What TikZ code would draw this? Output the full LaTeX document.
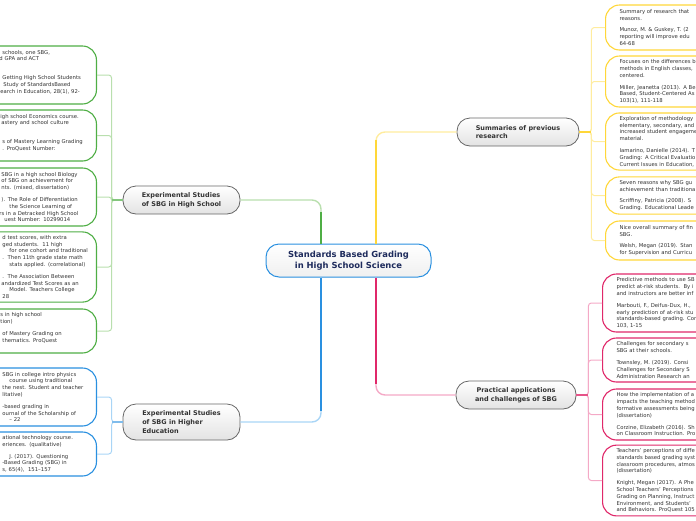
\documentclass[tikz,border=0pt]{standalone}
\usepackage{fontspec}
\setmainfont{DejaVu Sans}
\usepackage{tikz}
\definecolor{grnA}{HTML}{4FAE45}
\definecolor{grnB}{HTML}{B9DFAE}
\definecolor{yelA}{HTML}{FFD739}
\definecolor{yelB}{HTML}{FFEC9E}
\definecolor{bluA}{HTML}{2A90E0}
\definecolor{bluB}{HTML}{A9D5F6}
\definecolor{pnkA}{HTML}{E0286A}
\definecolor{pnkB}{HTML}{F4A9C6}
\definecolor{inkgray}{HTML}{333333}
\definecolor{navy}{HTML}{1E2B5C}
% one cut line of a left leaf, shifted to where it shows
\newcommand{\cut}[2][0]{\hspace*{\dimexpr55pt+#1pt\relax}\mbox{#2}}

\begin{document}
\begin{tikzpicture}[x=1pt,y=-1pt,
  leaf/.style={draw,fill=white,line width=1.1pt,rounded corners=14pt,align=left,
    text=inkgray,font=\fontsize{5.3}{6.8}\selectfont},
  leftleaf/.style={leaf,anchor=east,text width=150pt,inner xsep=2pt},
  rightleaf/.style={leaf,anchor=west,text width=200pt,inner xsep=14pt},
  topic/.style={draw=gray!80!black,line width=0.8pt,rounded corners=13pt,
    top color=white,bottom color=gray!22,text=inkgray,align=left,
    font=\fontsize{6.5}{8.7}\selectfont\bfseries,minimum width=117pt,inner xsep=15pt},
  trunk/.style={line width=2.2pt},
  twig/.style={line width=1.4pt,rounded corners=9pt},
  spine/.style={line width=1pt,rounded corners=3pt}]
\useasboundingbox (0,0) rectangle (696,520);
\clip (0,0) rectangle (696,520);
%
\node[draw=bluA,line width=1pt,rounded corners=13pt,top color=white,bottom color=gray!12,
  text=navy,align=center,font=\fontsize{8.4}{10.5}\selectfont\bfseries,
  minimum width=165pt,minimum height=33pt] (root) at (348.5,260.5)
  {Standards Based Grading\\in High School Science};
%
\node[topic,minimum height=28pt] (hs) at (181.5,200) {Experimental Studies\\of SBG in High School};
\node[topic,minimum height=36pt] (he) at (181.5,422) {Experimental Studies\\of SBG in Higher\\Education};
\node[topic,minimum height=28pt,minimum width=122pt] (sr) at (518,132) {Summaries of previous\\research};
\node[topic,minimum height=28pt,minimum width=120pt,align=center] (pa) at (516,395) {Practical applications\\and challenges of SBG};
%
\draw[twig,grnB] ([xshift=-27.5pt]root.north) |- (hs.east);
\draw[trunk,grnA] ([xshift=-27.5pt]root.north) -- ++(0,-32);
\draw[twig,yelB] ([xshift=27.5pt]root.north) |- (sr.west);
\draw[trunk,yelA] ([xshift=27.5pt]root.north) -- ++(0,-104);
\draw[twig,bluB] ([xshift=-27.5pt]root.south) |- (he.east);
\draw[trunk,bluA] ([xshift=-27.5pt]root.south) -- ++(0,133);
\draw[twig,pnkB] ([xshift=27.5pt]root.south) |- (pa.west);
\draw[trunk,pnkA] ([xshift=27.5pt]root.south) -- ++(0,106);
%
% left leaves, high school
\node[leftleaf,draw=grnA,minimum height=58pt] (l1) at (97,75) {%
\cut[3]{schools, one SBG,}\\
\cut{d GPA and ACT}\\
\cut{}\\[5pt]
\cut[3]{Getting High School Students}\\
\cut[4]{Study of StandardsBased}\\
\cut[1]{earch in Education, 28(1), 92-}\\
\cut{}};
\node[leftleaf,draw=grnA,minimum height=51pt] (l2) at (97,135.5) {%
\cut[1]{igh school Economics course.}\\
\cut[2]{astery and school culture}\\
\cut{}\\[5pt]
\cut[3]{s of Mastery Learning Grading}\\
\cut[3]{. ProQuest Number:}\\
\cut{}};
\node[leftleaf,draw=grnA,minimum height=58pt] (l3) at (97,197) {%
\cut[2]{SBG in a high school Biology}\\
\cut[2]{of SBG on achievement for}\\
\cut[2]{nts. (mixed, dissertation)}\\[5pt]
\cut[2]{). The Role of Differentiation}\\
\cut[10]{the Science Learning of}\\
\cut{rs in a Detracked High School}\\
\cut[5]{uest Number: 10299014}};
\node[leftleaf,draw=grnA,minimum height=70pt] (l4) at (97,267) {%
\cut[3]{d test scores, with extra}\\
\cut[3]{ged students.\ \ 11 high}\\
\cut[10]{for one cohort and traditional}\\
\cut[3]{.\ \ Then 11th grade state math}\\
\cut[10]{stats applied. (correlational)}\\[5pt]
\cut[3]{.\ \ The Association Between}\\
\cut[2]{andardized Test Scores as an}\\
\cut[10]{Model. Teachers College}\\
\cut[3]{28}};
\node[leftleaf,draw=grnA,minimum height=44pt] (l5) at (97,331) {%
\cut[1]{s in high school}\\
\cut[1]{tion)}\\[5pt]
\cut[3]{of Mastery Grading on}\\
\cut[3]{thematics. ProQuest}\\
\cut{}};
% left leaves, higher education
\node[leftleaf,draw=bluA,minimum height=58pt] (b1) at (97,397) {%
\cut[3]{SBG in college intro physics}\\
\cut[10]{course using traditional}\\
\cut[3]{the nest. Student and teacher}\\
\cut[3]{litative)}\\[5pt]
\cut[3]{-based grading in}\\
\cut[3]{ournal of the Scholarship of}\\
\cut[10]{– 22}};
\node[leftleaf,draw=bluA,minimum height=44pt] (b2) at (97,454) {%
\cut[3]{ational technology course.}\\
\cut[3]{eriences. (qualitative)}\\[5pt]
\cut[10]{J. (2017). Questioning}\\
\cut[3]{-Based Grading (SBG) in}\\
\cut[3]{s, 65(4),\ \ 151–157}};
%
% right leaves, summaries
\node[rightleaf,draw=yelA,minimum height=45pt] (y1) at (605,27.5)
  {Summary of research that\\reasons.\\[5pt]Munoz, M. \& Guskey, T. (2\\reporting will improve edu\\64-68};
\node[rightleaf,draw=yelA,minimum height=51pt] (y2) at (605,81.5)
  {Focuses on the differences b\\methods in English classes,\\centered.\\[5pt]Miller, Jeanetta (2013). A Be\\Based, Student-Centered As\\103(1), 111-118};
\node[rightleaf,draw=yelA,minimum height=57pt] (y3) at (605,141.5)
  {Exploration of methodology\\elementary, secondary, and\\increased student engageme\\material.\\[5pt]Iamarino, Danielle (2014). T\\Grading: A Critical Evaluatio\\Current Issues in Education,};
\node[rightleaf,draw=yelA,minimum height=37pt] (y4) at (605,195.5)
  {Seven reasons why SBG gu\\achievement than traditiona\\[5pt]Scriffiny, Patricia (2008). S\\Grading. Educational Leade};
\node[rightleaf,draw=yelA,minimum height=39pt] (y5) at (605,240.5)
  {Nice overall summary of fin\\SBG.\\[5pt]Welsh, Megan (2019). Stan\\for Supervision and Curricu};
% right leaves, practical applications
\node[rightleaf,draw=pnkA,minimum height=58pt] (p1) at (602,303)
  {Predictive methods to use SB\\predict at-risk students.\ \ By i\\and instructors are better inf\\[5pt]Marbouti, F., Deifus-Dux, H.,\\early prediction of at-risk stu\\standards-based grading. Con\\103, 1-15};
\node[rightleaf,draw=pnkA,minimum height=44pt] (p2) at (602,360)
  {Challenges for secondary s\\SBG at their schools.\\[5pt]Townsley, M. (2019). Consi\\Challenges for Secondary S\\Administration Research an};
\node[rightleaf,draw=pnkA,minimum height=51pt] (p3) at (602,414.5)
  {How the implementation of a\\impacts the teaching method\\formative assessments being\\(dissertation)\\[5pt]Corzine, Elizabeth (2016). Sh\\on Classroom Instruction. Pro};
\node[rightleaf,draw=pnkA,minimum height=69pt] (p4) at (602,480.5)
  {Teachers' perceptions of diffe\\standards based grading syst\\classroom procedures, atmos\\(dissertation)\\[5pt]Knight, Megan (2017). A Phe\\School Teachers' Perceptions\\Grading on Planning, Instruct\\Environment, and Students'\\and Behaviors. ProQuest 105};
%
\foreach \n in {l1,l2,l3,l4,l5} \draw[spine,grnB] (hs.west) -- ++(-11,0) |- (\n.east);
\foreach \n in {b1,b2} \draw[spine,bluB] (he.west) -- ++(-11,0) |- (\n.east);
\foreach \n in {y1,y2,y3,y4,y5} \draw[spine,yelB] (sr.east) -- ++(12,0) |- (\n.west);
\foreach \n in {p1,p2,p3,p4} \draw[spine,pnkB] (pa.east) -- ++(12,0) |- (\n.west);
\draw[line width=1.4pt,grnA!70] (hs.west) -- ++(-11,0);
\draw[line width=1.4pt,bluA!60] (he.west) -- ++(-11,0);
\draw[line width=1.4pt,yelA] (sr.east) -- ++(12,0);
\draw[line width=1.4pt,pnkA!80] (pa.east) -- ++(12,0);
\end{tikzpicture}
\end{document}
